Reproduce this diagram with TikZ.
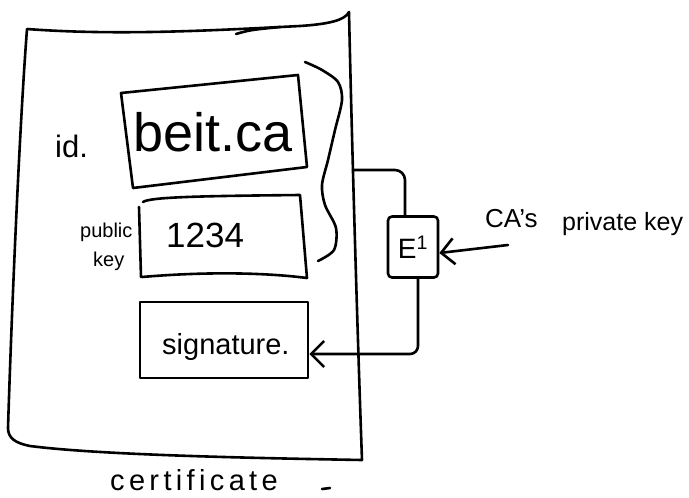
\documentclass[tikz,border=0pt]{standalone}
\usepackage{fontspec}
\setmainfont{Liberation Sans}
\usetikzlibrary{arrows.meta}
\tikzset{
  ink/.style={line width=2.6pt, line cap=round, line join=round},
  box/.style={ink, draw, rectangle, inner sep=0pt},
  lbl/.style={inner sep=0pt, anchor=base west},
  arr/.style={ink, -{Straight Barb[length=13pt,width=26pt,line width=2.6pt]}},
}
\begin{document}
\begin{tikzpicture}[x=1pt, y=-1pt]
\useasboundingbox[fill=white] (0,0) rectangle (689,498);

% certificate sheet
\draw[ink] (27,29) .. controls (120,36) and (220,30) .. (300,26)
  .. controls (330,24) and (345,20) .. (349,12)
  .. controls (352,150) and (358,350) .. (362,460)
  .. controls (250,458) and (100,455) .. (30,446)
  .. controls (15,443) and (8,438) .. (8,428)
  .. controls (12,300) and (20,120) .. (27,29);
\draw[ink] (236,34) .. controls (250,30) .. (280,27);
\coordinate (certR) at (353,170);

% identity field
\draw[ink] (121,93) -- (298,75) -- (307,167) -- (133,188) -- cycle;
\node[lbl, font=\fontsize{31}{33}\selectfont] (idlabel) at (55,157) {id.};
\node[lbl, font=\fontsize{54}{58}\selectfont] (idtext) at (133,151) {beit.ca};

% public key field
\draw[ink] (143,202) .. controls (150,197) and (200,196) .. (300,195)
  .. controls (303,230) and (305,255) .. (307,278)
  .. controls (260,272) and (200,272) .. (142,277);
\draw[ink] (139,207) -- (141,277);
\node[lbl, font=\fontsize{20}{22}\selectfont] (pklabel) at (80,237) {public};
\node[lbl, font=\fontsize{20}{22}\selectfont] (pklabel2) at (93,266) {key};
\node[lbl, font=\fontsize{35}{37}\selectfont] (pktext) at (166,247) {1234};

% brace over the signed fields
\draw[ink] plot[smooth] coordinates {(305,62) (322,70) (338,82) (342,100) (335,130)
  (328,160) (322,185) (325,205) (336,228) (334,250) (318,261)};

% signature field
\node[box, minimum width=168pt, minimum height=76pt] (sig) at (224,340) {};
\node[lbl, font=\fontsize{29}{31}\selectfont] (sigtext) at (162,354) {signature.};

% signing operation
\node[box, rounded corners=4pt, minimum width=50pt, minimum height=61pt,
      font=\fontsize{28}{30}\selectfont] (E) at (413,247) {E\textsuperscript{1}};
\draw[ink, rounded corners=10pt] (certR) -| ([xshift=-8pt]E.north);
\draw[arr, rounded corners=8pt] ([xshift=5pt]E.south) |- ([yshift=-14pt]sig.east);

% CA's private key
\node[lbl, font=\fontsize{26}{28}\selectfont] (ca) at (485,227) {CA's};
\node[lbl, font=\fontsize{25}{27}\selectfont] (cakey) at (562,230) {private key};
\coordinate (keytail) at (508,245);
\draw[arr] (keytail) -- ([yshift=-6pt]E.east);

% caption
\node[lbl, font=\fontsize{29}{31}\selectfont\addfontfeature{LetterSpace=15}] (certlabel) at (110,490) {certificate};
\draw[ink] (322,489) -- (330,488);
\end{tikzpicture}
\end{document}
